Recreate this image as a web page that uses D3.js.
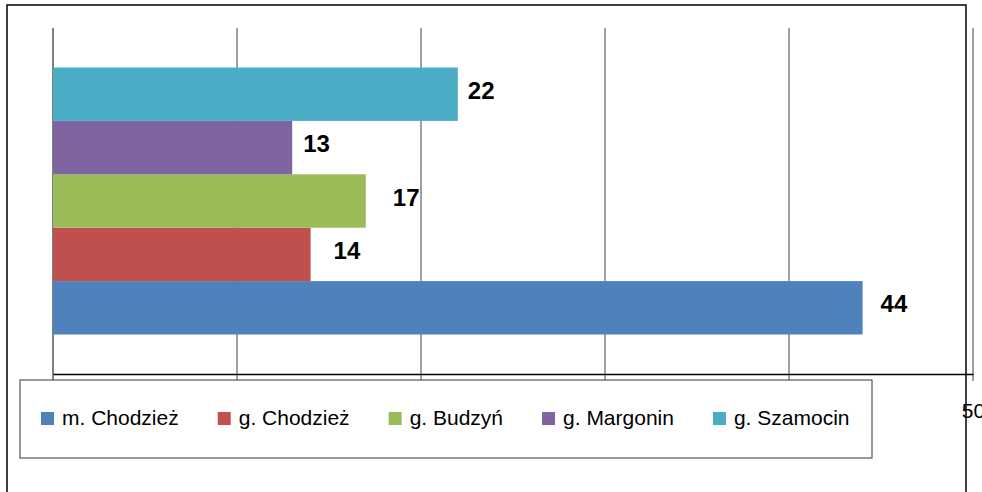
<!DOCTYPE html>
<html>
<head>
<meta charset="utf-8">
<script src="https://cdn.jsdelivr.net/npm/d3@7"></script>
<style>
  body { margin: 0; background: #fff; }
  svg { display: block; font-family: "Liberation Sans", Arial, sans-serif; }
</style>
</head>
<body>
<div id="chart"></div>
<script>
//series names (bottom to top in the chart) and their values
const seriesNames = ['m. Chodzież', 'g. Chodzież', 'g. Budzyń', 'g. Margonin', 'g. Szamocin'];
const seriesValues = [44, 14, 17, 13, 22];
const seriesColors = ['#4F81BD', '#C0504D', '#9BBB59', '#8064A2', '#4BACC6'];
const xTicks = [0, 10, 20, 30, 40, 50];
//label gap after bar end (px), as in the original
const labelGap = [18, 23, 27, 11, 10];

const W = 982, H = 492;
const plot = { left: 53, right: 973, top: 28, bottom: 374 };

const svg = d3.select('#chart').append('svg')
    .attr('width', W)
    .attr('height', H);

//x scale
const x = d3.scaleLinear().domain([0, 50]).range([plot.left, plot.right]);

//one band per series, first series at bottom
const y = d3.scaleBand()
    .domain(seriesNames.slice().reverse())
    .range([plot.top, plot.bottom])
    .paddingInner(0)
    .paddingOuter(0.74);

//outer chart frame (no bottom edge visible)
svg.append('path')
    .attr('d', 'M7,492 L7,5 L966,5 L966,492')
    .attr('fill', 'none')
    .attr('stroke', '#000')
    .attr('stroke-width', 1.5);

//vertical gridlines
svg.append('g').selectAll('line')
    .data(xTicks)
  .enter().append('line')
    .attr('x1', d => x(d)).attr('x2', d => x(d))
    .attr('y1', plot.top).attr('y2', plot.bottom + 7)
    .attr('stroke', (d, i) => i === 0 ? '#555' : '#808080')
    .attr('stroke-width', 1.5);

//horizontal axis with tick labels
const axis = svg.append('g')
    .attr('transform', `translate(0,${plot.bottom})`)
    .call(d3.axisBottom(x).tickValues(xTicks).tickSize(0).tickFormat(d3.format('d')));
axis.select('.domain').attr('stroke', '#000').attr('stroke-width', 1.5);
axis.selectAll('text')
    .attr('y', 44)
    .attr('dy', 0)
    .attr('font-size', 21)
    .attr('font-family', '"Liberation Sans", Arial, sans-serif')
    .attr('fill', '#000');

//bars
const data = seriesNames.map((name, i) => ({ name, value: seriesValues[i], color: seriesColors[i], gap: labelGap[i] }));

svg.append('g').selectAll('rect')
    .data(data)
  .enter().append('rect')
    .attr('x', x(0))
    .attr('y', d => y(d.name))
    .attr('width', d => x(d.value) - x(0))
    .attr('height', y.bandwidth())
    .attr('fill', d => d.color);

//value labels
svg.append('g').selectAll('text')
    .data(data)
  .enter().append('text')
    .attr('x', d => x(d.value) + d.gap)
    .attr('y', d => y(d.name) + y.bandwidth() / 2 + 4.5)
    .attr('font-size', 24)
    .attr('font-weight', 'bold')
    .attr('fill', '#000')
    .text(d => d.value);

//legend box on top
const legend = svg.append('g');
legend.append('rect')
    .attr('x', 20).attr('y', 380)
    .attr('width', 852).attr('height', 78)
    .attr('fill', '#fff')
    .attr('stroke', '#555')
    .attr('stroke-width', 1.2);

let lx = 41;
data.forEach(d => {
    legend.append('rect')
        .attr('x', lx).attr('y', 412)
        .attr('width', 13).attr('height', 13)
        .attr('fill', d.color);
    const t = legend.append('text')
        .attr('x', lx + 21).attr('y', 424.5)
        .attr('font-size', 21)
        .attr('fill', '#000')
        .text(d.name);
    lx += 21 + t.node().getComputedTextLength() + 39;
});
</script>
</body>
</html>
